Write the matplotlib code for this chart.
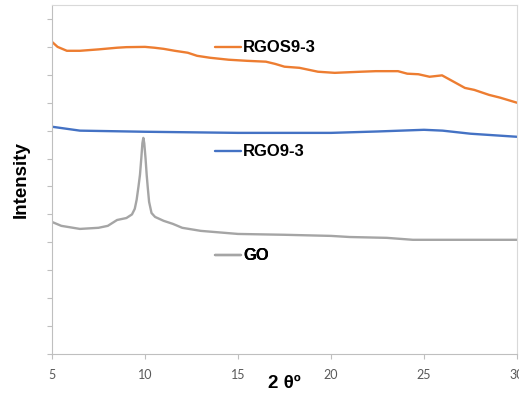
import matplotlib
matplotlib.use('Agg')
import matplotlib.pyplot as plt

# XRD patterns, intensity in arbitrary (offset) units
rgos_x = [5, 5.3, 5.8, 6.5, 7.5, 8.5, 9.0, 10.0, 10.5, 11.0, 11.6, 12.3, 12.8,
          13.5, 14.5, 15.5, 16.5, 17.0, 17.5, 18.3, 19.3, 20.2, 21.6, 22.4,
          23.6, 24.1, 24.7, 25.3, 25.97, 26.6, 27.2, 27.7, 28.5, 29.1, 30]
rgos_y = [11.18, 11.00, 10.86, 10.86, 10.91, 10.97, 10.99, 11.00, 10.97, 10.93,
          10.86, 10.79, 10.68, 10.61, 10.54, 10.50, 10.47, 10.39, 10.29, 10.25,
          10.11, 10.07, 10.11, 10.13, 10.13, 10.04, 10.02, 9.93, 9.98, 9.75,
          9.53, 9.46, 9.28, 9.18, 9.00]

rgo_x = [5, 6.5, 10, 15, 20, 22.5, 25, 26, 27.5, 30]
rgo_y = [8.14, 8.00, 7.96, 7.92, 7.92, 7.97, 8.03, 8.00, 7.89, 7.78]

go_x = [5, 5.5, 6.5, 7.5, 8.0, 8.5, 9.0, 9.3, 9.45, 9.55, 9.65, 9.73, 9.80,
        9.86, 9.91, 9.96, 10.03, 10.09, 10.15, 10.22, 10.35, 10.54, 11.0,
        11.5, 12.0, 13, 15, 17.5, 20, 21, 23, 24.4, 30]
go_y = [4.73, 4.59, 4.48, 4.52, 4.59, 4.80, 4.87, 5.00, 5.20, 5.52, 6.00,
        6.42, 7.00, 7.55, 7.74, 7.55, 7.00, 6.42, 5.95, 5.45, 5.05, 4.91, 4.77,
        4.66, 4.52, 4.41, 4.30, 4.27, 4.23, 4.19, 4.16, 4.09, 4.09]

x_ticks = [5, 10, 15, 20, 25, 30]
labels = ['RGOS9-3', 'RGO9-3', 'GO']
colors = ['#ED7D31', '#4472C4', '#A5A5A5']

W, H = 519, 398
fig = plt.figure(figsize=(W / 100, H / 100), dpi=100)
ax = fig.add_axes([52 / W, 44 / H, 465 / W, 349 / H])

style = dict(lw=1.7, solid_joinstyle='round', solid_capstyle='round')
l1, = ax.plot(rgos_x, rgos_y, color=colors[0], **style)
l2, = ax.plot(rgo_x, rgo_y, color=colors[1], **style)
l3, = ax.plot(go_x, go_y, color=colors[2], **style)

ax.set_xlim(5, 30)
ax.set_ylim(0, 12.5)
ax.set_xticks(x_ticks)
ax.set_yticks(range(0, 13))
ax.set_yticklabels([])
ax.tick_params(axis='both', direction='out', length=3.5, width=0.8,
               color='#BFBFBF', labelsize=9, labelcolor='#595959', pad=7)
for t in ax.get_xticklabels():
    t.set_fontfamily('Lato')

for s in ['left', 'bottom']:
    ax.spines[s].set_color('#BFBFBF')
for s in ['top', 'right']:
    ax.spines[s].set_color('#D9D9D9')

ax.set_xlabel('2 θº', fontsize=13.5, fontweight='bold',
              family='Liberation Sans', va='center')
ax.xaxis.set_label_coords(0.5, -30 / 349)
ax.set_ylabel('Intensity', fontsize=13.5, fontweight='bold',
              family='Liberation Sans', va='center')
ax.yaxis.set_label_coords(-31 / 465, 0.5)

# series labels placed inside the plot, like in the original
label_y = [48, 152, 256]
for line, lab, py in zip([l1, l2, l3], labels, label_y):
    leg = ax.legend(handles=[line], labels=[lab], loc='center left',
                    bbox_to_anchor=(215 / W, 1 - py / H),
                    bbox_transform=fig.transFigure, frameon=False,
                    prop={'family': 'Liberation Sans', 'weight': 'bold',
                          'size': 12},
                    handlelength=1.55, handletextpad=0.15,
                    borderpad=0, borderaxespad=0)
    ax.add_artist(leg)

plt.savefig('out.png', dpi=100)
